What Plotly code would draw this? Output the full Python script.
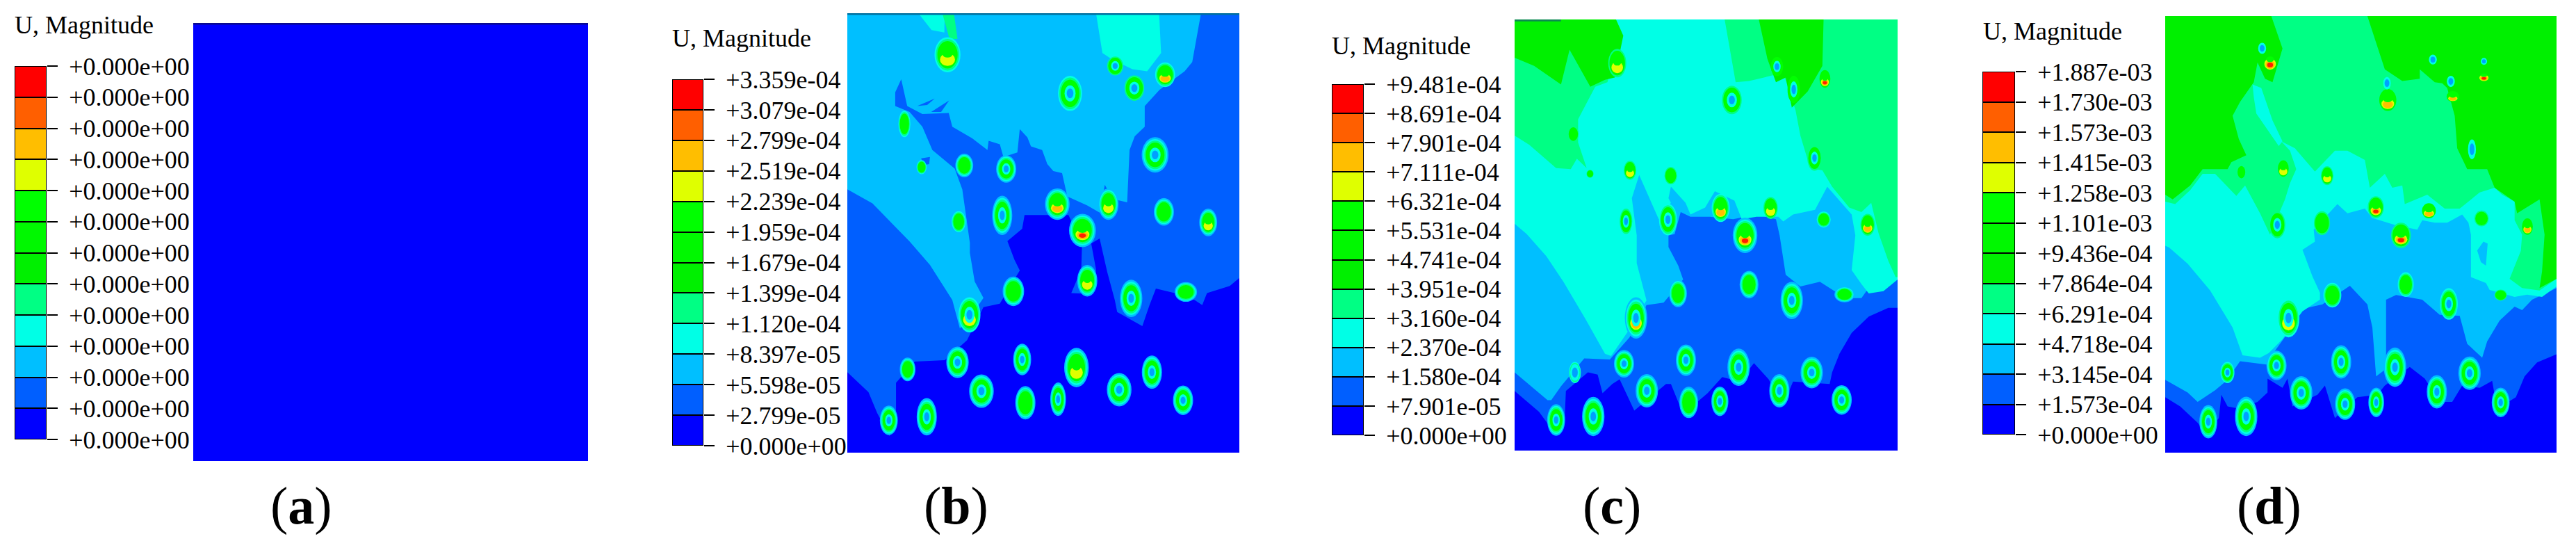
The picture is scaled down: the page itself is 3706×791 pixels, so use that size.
import plotly.graph_objects as go

FONT = "Liberation Serif"

# legend colours, bottom to top
legend_colors = ["#0000ff", "#005fff", "#00bfff", "#00ffe6", "#00ff84", "#00f000", "#00f800", "#00ff00",
                 "#dfff00", "#ffbe00", "#ff5f00", "#ff0000"]
legend_steps = [1] * 12
legend_base = list(range(12))
legend_ticks = list(range(12, -1, -1))

labels_a = ["+0.000e+00"] * 13
labels_b = ["+3.359e-04", "+3.079e-04", "+2.799e-04", "+2.519e-04", "+2.239e-04", "+1.959e-04", "+1.679e-04",
            "+1.399e-04", "+1.120e-04", "+8.397e-05", "+5.598e-05", "+2.799e-05", "+0.000e+00"]
labels_c = ["+9.481e-04", "+8.691e-04", "+7.901e-04", "+7.111e-04", "+6.321e-04", "+5.531e-04", "+4.741e-04",
            "+3.951e-04", "+3.160e-04", "+2.370e-04", "+1.580e-04", "+7.901e-05", "+0.000e+00"]
labels_d = ["+1.887e-03", "+1.730e-03", "+1.573e-03", "+1.415e-03", "+1.258e-03", "+1.101e-03", "+9.436e-04",
            "+7.864e-04", "+6.291e-04", "+4.718e-04", "+3.145e-04", "+1.573e-04", "+0.000e+00"]

b1_x = [469, 522, 544, 575, 591, 591, 638, 713, 769, 810, 851, 901, 888, 870, 907, 913, 1023, 1057, 1055, 1030, 1085, 1092, 1080, 1101, 1120, 1139, 1145, 1208, 1226, 1242, 1289, 1339, 1358, 1370, 1427, 1451, 1451, 469]
b1_y = [1058, 1115, 1175, 1240, 1169, 1088, 1028, 1024, 967, 873, 863, 769, 739, 685, 650, 611, 611, 692, 766, 833, 836, 766, 692, 678, 773, 853, 887, 927, 867, 820, 833, 853, 867, 833, 813, 790, 37, 37]
b2_x = [469, 1355, 1333, 1314, 1251, 1214, 1214, 1189, 1176, 1170, 1133, 1114, 1101, 1070, 1020, 1007, 985, 970, 957, 929, 920, 901, 895, 860, 851, 823, 820, 782, 732, 723, 657, 619, 604, 589, 589, 625, 657, 682, 738, 757, 776, 776, 788, 810, 790, 751, 732, 676, 625, 532, 469]
b2_y = [37, 37, 176, 202, 255, 301, 360, 387, 426, 575, 565, 525, 604, 584, 558, 492, 486, 466, 426, 416, 390, 367, 433, 446, 410, 400, 426, 393, 360, 321, 324, 301, 225, 262, 301, 318, 360, 426, 479, 538, 690, 719, 800, 847, 880, 934, 853, 753, 686, 578, 538]
b3_x = [647, 713, 712, 680]
b3_y = [37, 37, 92, 85]
b4_x = [1092, 1250, 1255, 1220, 1183, 1133, 1108]
b4_y = [37, 37, 150, 202, 196, 169, 150]
b5_x = [707, 736, 745, 725]
b5_y = [37, 37, 110, 110]
b6_x = [654, 676, 674, 660]
b6_y = [450, 446, 466, 469]
b7_x = [644, 688, 669]
b7_y = [301, 280, 298]
b8_x = [679, 724, 704]
b8_y = [318, 285, 318]

# panel c, in pixels of the two stacked crops
c1_x = [0, 100, 135, 165, 205, 210, 300, 340, 360, 400, 430, 490, 620, 640, 690, 790, 850, 920, 980, 1040, 1100, 1140, 1290, 1300, 1330, 1380, 1450, 1530, 1568, 1568, 0]
c1_y = [1600, 1690, 1740, 1790, 1720, 1600, 1520, 1530, 1610, 1570, 1550, 1685, 1570, 1570, 1700, 1610, 1540, 1560, 1480, 1550, 1660, 1560, 1570, 1520, 1440, 1350, 1280, 1242, 1242, 0, 0]
c2_x = [0, 80, 135, 150, 190, 285, 390, 470, 540, 610, 690, 670, 630, 630, 655, 680, 720, 800, 895, 990, 1070, 1085, 1110, 1170, 1250, 1310, 1380, 1420, 1440, 1560, 1568, 1568, 0]
c2_y = [1520, 1590, 1640, 1640, 1580, 1460, 1465, 1370, 1230, 1220, 1120, 1060, 980, 930, 925, 830, 850, 850, 860, 840, 860, 930, 1100, 1150, 1130, 1170, 1200, 1200, 1170, 1120, 1120, 0, 0]
c3_x = [0, 50, 130, 200, 290, 370, 395, 460, 540, 500, 500, 480, 510, 590, 640, 630, 640, 700, 720, 780, 820, 900, 930, 990, 1080, 1100, 1140, 1230, 1280, 1330, 1380, 1395, 1380, 1420, 1450, 1510, 1568, 1568, 0]
c3_y = [880, 925, 1020, 1130, 1290, 1440, 1450, 1350, 1210, 1050, 930, 770, 670, 860, 790, 770, 720, 790, 840, 810, 740, 780, 860, 850, 850, 870, 840, 820, 720, 780, 840, 930, 1080, 1140, 1180, 1170, 1120, 0, 0]
c4_x = [0, 60, 170, 230, 255, 295, 260, 260, 300, 330, 380, 440, 415, 0]
c4_y = [500, 540, 640, 645, 600, 640, 530, 430, 350, 290, 270, 60, 0, 0]
c5_x = [860, 890, 905, 960, 1020, 1100, 1150, 1170, 1210, 1260, 1300, 1370, 1420, 1460, 1490, 1530, 1560, 1568, 1568]
c5_y = [0, 180, 270, 265, 250, 230, 390, 500, 640, 650, 720, 810, 830, 790, 920, 1040, 1110, 1110, 0]
c6_x = [0, 80, 190, 225, 310, 370, 410, 445, 415, 0]
c6_y = [165, 200, 280, 130, 290, 260, 250, 70, 0, 0]
c7_x = [1000, 1035, 1070, 1110, 1135, 1200, 1260, 1265]
c7_y = [0, 170, 270, 250, 380, 310, 200, 0]

# panel d, same way
d1_x = [0, 60, 130, 165, 215, 225, 250, 300, 370, 410, 410, 470, 490, 510, 610, 640, 680, 770, 850, 880, 980, 1040, 1100, 1150, 1190, 1260, 1310, 1330, 1405, 1440, 1490, 1568, 1568, 0]
d1_y = [1642, 1682, 1752, 1802, 1732, 1632, 1682, 1692, 1662, 1622, 1562, 1602, 1562, 1682, 1632, 1592, 1732, 1642, 1632, 1592, 1512, 1562, 1662, 1662, 1592, 1602, 1572, 1692, 1642, 1552, 1492, 1457, 0, 0]
d2_x = [0, 90, 130, 200, 245, 300, 410, 420, 480, 550, 630, 740, 810, 830, 845, 885, 885, 925, 1030, 1100, 1180, 1210, 1270, 1290, 1340, 1400, 1430, 1470, 1568, 1568, 0]
d2_y = [1567, 1622, 1662, 1612, 1572, 1487, 1502, 1472, 1382, 1262, 1242, 1162, 1242, 1342, 1552, 1520, 1222, 1202, 1222, 1287, 1292, 1412, 1472, 1402, 1312, 1252, 1267, 1222, 1172, 0, 0]
d3_x = [0, 15, 90, 180, 270, 310, 380, 415, 470, 550, 620, 620, 590, 550, 600, 595, 690, 730, 800, 830, 920, 1010, 1030, 1080, 1130, 1190, 1215, 1225, 1225, 1285, 1300, 1400, 1450, 1510, 1568, 1568, 0]
d3_y = [990, 997, 1067, 1182, 1342, 1462, 1472, 1452, 1392, 1272, 1222, 1192, 1122, 1007, 972, 920, 810, 850, 830, 870, 900, 920, 880, 890, 890, 855, 890, 942, 1125, 1150, 1180, 1210, 1200, 1210, 1165, 0, 0]
d4_x = [0, 40, 100, 150, 200, 285, 320, 380, 420, 480, 500, 525, 500, 465, 520, 600, 680, 730, 800, 820, 880, 910, 950, 960, 1050, 1120, 1180, 1260, 1320, 1350, 1400, 1400, 1430, 1425, 1395, 1380, 1430, 1500, 1568, 1568, 0]
d4_y = [800, 810, 750, 680, 680, 775, 730, 850, 942, 790, 720, 660, 580, 540, 570, 670, 580, 580, 620, 740, 680, 740, 730, 810, 770, 830, 830, 760, 740, 770, 800, 880, 942, 1012, 1092, 1132, 1172, 1182, 1132, 0, 0]
d5_x = [0, 30, 100, 150, 250, 265, 325, 295, 270, 300, 355, 370, 400, 430, 470, 425, 0]
d5_y = [770, 790, 730, 660, 660, 630, 600, 530, 430, 370, 285, 200, 270, 285, 140, 0, 0]
d6_x = [810, 880, 950, 1020, 1020, 1080, 1110, 1130, 1160, 1170, 1210, 1290, 1320, 1400, 1410, 1500, 1520, 1510, 1500, 1568, 1568]
d6_y = [0, 230, 280, 270, 230, 285, 290, 310, 430, 570, 660, 660, 740, 800, 850, 790, 942, 1100, 1172, 1132, 0]
d7_x = [350, 385, 430, 470, 455, 430, 365, 355]
d7_y = [295, 310, 450, 540, 560, 520, 420, 350]
d8_x = [1250, 1275, 1292, 1285, 1265]
d8_y = [1010, 972, 980, 1075, 1060]

# hot spots: centre, size, hole (0/1), hot level (0 to 3), band they sit in
b_spot_x = [720, 1027, 1140, 1188, 1265, 612, 1240, 762, 867, 655, 748, 857, 995, 1123, 1262, 1373, 1058, 1070, 885, 1180, 1317, 775, 745, 907, 1043, 620, 805, 1150, 1232, 915, 997, 1310, 573, 668]
b_spot_y = [155, 265, 187, 250, 212, 352, 440, 470, 480, 475, 630, 612, 580, 580, 602, 632, 655, 798, 828, 848, 830, 895, 1030, 1022, 1045, 1050, 1112, 1108, 1058, 1145, 1135, 1138, 1195, 1185]
b_spot_w = [65, 60, 45, 55, 50, 30, 60, 40, 45, 25, 35, 45, 55, 45, 45, 40, 60, 45, 48, 50, 50, 55, 50, 40, 55, 35, 55, 55, 45, 45, 35, 45, 40, 45]
b_spot_h = [100, 100, 60, 80, 70, 75, 90, 60, 70, 40, 60, 100, 80, 80, 70, 70, 85, 80, 75, 95, 50, 100, 80, 80, 100, 60, 85, 85, 85, 85, 85, 75, 75, 95]
b_spot_hole = [0, 1, 1, 1, 0, 0, 1, 0, 1, 0, 0, 1, 0, 0, 0, 0, 0, 0, 0, 1, 0, 1, 1, 1, 0, 0, 1, 1, 1, 0, 1, 1, 1, 1]
b_spot_hot = [1, 0, 0, 0, 2, 0, 0, 0, 0, 0, 0, 0, 2, 1, 0, 1, 3, 1, 0, 0, 0, 1, 0, 0, 1, 0, 0, 0, 0, 0, 0, 0, 0, 0]
b_spot_bg = [2, 2, 3, 3, 2, 2, 1, 1, 1, 2, 1, 1, 1, 1, 1, 1, 0, 0, 0, 1, 1, 2, 1, 0, 0, 0, 0, 0, 0, 0, 0, 0, 1, 0]

c_spot_x = [778, 1178, 1220, 1298, 1065, 668, 710, 810, 912, 1272, 1037, 1162, 800, 905, 1295, 1405, 1098, 1108, 930, 1215, 1347, 825, 795, 950, 1082, 672, 852, 1184, 1265, 957, 1035, 1340, 625, 718]
c_spot_y = [180, 190, 255, 225, 285, 382, 495, 485, 500, 450, 592, 592, 630, 625, 625, 640, 670, 810, 835, 855, 838, 905, 1035, 1025, 1045, 1060, 1112, 1112, 1060, 1145, 1142, 1138, 1195, 1185]
c_spot_w = [50, 40, 40, 35, 55, 30, 20, 35, 35, 40, 45, 40, 35, 45, 35, 40, 55, 42, 40, 50, 45, 50, 45, 45, 50, 30, 50, 45, 50, 42, 38, 45, 40, 50]
c_spot_h = [90, 70, 100, 65, 90, 50, 25, 60, 55, 80, 80, 70, 80, 90, 45, 70, 90, 70, 70, 95, 40, 105, 70, 80, 95, 60, 85, 85, 80, 80, 75, 75, 80, 100]
c_spot_hole = [0, 1, 1, 0, 1, 0, 0, 0, 0, 1, 0, 0, 1, 1, 0, 0, 0, 0, 0, 1, 0, 1, 1, 1, 1, 1, 1, 1, 1, 0, 1, 1, 1, 1]
c_spot_hot = [1, 0, 0, 3, 0, 0, 0, 1, 0, 0, 2, 1, 0, 0, 0, 2, 3, 0, 0, 0, 0, 2, 0, 0, 0, 0, 0, 0, 0, 0, 0, 0, 0, 0]
c_spot_bg = [3, 4, 4, 4, 3, 3, 3, 3, 3, 3, 2, 3, 2, 2, 2, 3, 1, 1, 1, 1, 1, 1, 1, 1, 1, 2, 1, 0, 1, 1, 0, 0, 1, 0]

d_spot_x = [812, 792, 1220, 1265, 1348, 1348, 1107, 1105, 1270, 1318, 740, 845, 955, 1077, 1210, 1342, 1457, 1140, 830, 942, 1152, 968, 1260, 1390, 858, 828, 990, 1125, 705, 890, 1230, 1312, 1000, 1078, 1390, 657, 752]
d_spot_y = [170, 138, 170, 232, 215, 175, 285, 237, 275, 425, 490, 480, 500, 590, 600, 622, 645, 670, 640, 635, 810, 840, 865, 840, 905, 1040, 1030, 1045, 1060, 1118, 1115, 1062, 1150, 1145, 1145, 1200, 1185]
d_spot_w = [50, 25, 25, 25, 40, 20, 55, 25, 40, 25, 25, 35, 35, 45, 45, 40, 35, 55, 45, 45, 40, 45, 45, 35, 55, 45, 45, 50, 35, 50, 45, 50, 45, 35, 40, 40, 50]
d_spot_h = [90, 40, 35, 40, 50, 25, 80, 45, 40, 70, 45, 60, 60, 70, 55, 50, 60, 80, 85, 75, 70, 70, 90, 35, 110, 75, 85, 100, 60, 85, 85, 85, 80, 75, 75, 85, 100]
d_spot_hole = [0, 1, 1, 1, 0, 1, 0, 1, 0, 1, 0, 0, 0, 0, 0, 0, 0, 0, 1, 0, 0, 0, 1, 0, 1, 1, 1, 1, 1, 1, 1, 1, 1, 1, 1, 1, 1]
d_spot_hot = [3, 0, 0, 0, 3, 0, 2, 0, 2, 0, 0, 1, 1, 3, 2, 0, 2, 3, 0, 0, 0, 0, 0, 0, 1, 0, 0, 0, 0, 0, 0, 0, 0, 0, 0, 0, 0]
d_spot_bg = [5, 5, 5, 5, 5, 5, 4, 4, 4, 5, 4, 4, 3, 3, 4, 3, 4, 3, 3, 3, 2, 2, 2, 3, 2, 1, 1, 1, 2, 1, 1, 1, 1, 1, 0, 0, 0]

panels = [
    dict(letter="a", labels=labels_a, box=(278, 846, 33, 663), crop=(484, 1473, 66, 1311), bar=(21, 67, 95, 632),
         title_x=19, title_y=36, letter_x=433, field=(484, 1473, 66, 1311), bands=[], spots=None,
         edge=(484, 1473, 68, "#0a0a90")),
    dict(letter="b", labels=labels_b, box=(1219, 1783, 19, 651), crop=(469, 1451, 37, 1287), bar=(967, 1012, 114, 641),
         title_x=965, title_y=55, letter_x=1375, field=(469, 1451, 37, 1287),
         bands=[(b1_x, b1_y, 1), (b2_x, b2_y, 2), (b3_x, b3_y, 3), (b4_x, b4_y, 3), (b5_x, b5_y, 4), (b6_x, b6_y, 1), (b7_x, b7_y, 1), (b8_x, b8_y, 1)],
         spots=(b_spot_x, b_spot_y, b_spot_w, b_spot_h, b_spot_hole, b_spot_hot, b_spot_bg),
         edge=(469, 1451, 39, "#00709f")),
    dict(letter="c", labels=labels_c, box=(2179, 2730, 28, 648), crop=(521, 1480, 56, 1282), bar=(1916, 1962, 121, 626),
         title_x=1914, title_y=66, letter_x=2319, field=(0, 1568, 0, 1857),
         bands=[(c1_x, c1_y, 1), (c2_x, c2_y, 2), (c3_x, c3_y, 3), (c4_x, c4_y, 4), (c5_x, c5_y, 4), (c6_x, c6_y, 5), (c7_x, c7_y, 5)],
         spots=(c_spot_x, c_spot_y, c_spot_w, c_spot_h, c_spot_hole, c_spot_hot, c_spot_bg),
         edge=(0, 190, 4, "#0a8a50")),
    dict(letter="d", labels=labels_d, box=(3115, 3678, 23, 651), crop=(549, 1530, 46, 1288), bar=(2852, 2899, 103, 625),
         title_x=2851, title_y=45, letter_x=3264, field=(0, 1568, 0, 1881),
         bands=[(d1_x, d1_y, 1), (d2_x, d2_y, 2), (d3_x, d3_y, 3), (d4_x, d4_y, 4), (d5_x, d5_y, 5), (d6_x, d6_y, 5), (d7_x, d7_y, 3), (d8_x, d8_y, 2)],
         spots=(d_spot_x, d_spot_y, d_spot_w, d_spot_h, d_spot_hole, d_spot_hot, d_spot_bg), edge=None),
]

W, H = 3706, 791
fig = go.Figure()
layout = dict(width=W, height=H, margin=dict(l=0, r=0, t=0, b=0, autoexpand=False), paper_bgcolor="white", plot_bgcolor="rgba(0,0,0,0)",
              showlegend=False, barmode="overlay", bargap=0)
shapes = []
notes = []

# band level of the halo rings round a spot and their size
rings = [(2, 1.12, "#00bfff"), (3, 1.0, "#00ffe6"), (4, 0.9, "#00ff84"), (5, 0.78, "#00ff00")]


def ellipse(px, py, cx, cy, w, h, color):
    shapes.append(dict(type="circle", xref=px, yref=py, x0=cx - w / 2, x1=cx + w / 2, y0=cy - h / 2, y1=cy + h / 2,
                       fillcolor=color, line=dict(width=0)))


for i, p in enumerate(panels):
    n_field = 3 * i + 1
    n_bar = 3 * i + 2
    n_spot = 3 * i + 3
    x0, x1, y0, y1 = p["box"]
    cx0, cx1, cy0, cy1 = p["crop"]
    fx0, fx1, fy0, fy1 = p["field"]
    dom_x = [x0 / W, x1 / W]
    dom_y = [1 - y1 / H, 1 - y0 / H]
    layout[f"xaxis{n_field}"] = dict(domain=dom_x, range=[fx0, fx1], visible=False, anchor=f"y{n_field}")
    layout[f"yaxis{n_field}"] = dict(domain=dom_y, range=[fy1, fy0], visible=False, anchor=f"x{n_field}")
    layout[f"xaxis{n_spot}"] = dict(domain=dom_x, range=[cx0, cx1], visible=False, anchor=f"y{n_spot}")
    layout[f"yaxis{n_spot}"] = dict(domain=dom_y, range=[cy1, cy0], visible=False, anchor=f"x{n_spot}")
    xr, yr = f"x{n_field}", f"y{n_field}"
    sxr, syr = f"x{n_spot}", f"y{n_spot}"

    # uniform base of the field
    fig.add_trace(go.Heatmap(x=[fx0, fx1], y=[fy0, fy1], z=[[0, 0], [0, 0]], xaxis=xr, yaxis=yr, zmin=0, zmax=1,
                             colorscale=[[0, "#0000ff"], [1, "#0000ff"]], showscale=False))

    for bx, by, level in p["bands"]:
        fig.add_trace(go.Scatter(x=bx, y=by, mode="lines", fill="toself", fillcolor=legend_colors[level],
                                 line=dict(width=0), xaxis=xr, yaxis=yr))

    if p["edge"]:
        ex0, ex1, ey, ecol = p["edge"]
        fig.add_trace(go.Scatter(x=[ex0, ex1], y=[ey, ey], mode="lines", line=dict(color=ecol, width=3), xaxis=xr, yaxis=yr))

    if p["spots"]:
        for sx, sy, sw, sh, hole, hot, bg in zip(*p["spots"]):
            for level, scale, col in rings:
                if level > bg:
                    ellipse(sxr, syr, sx, sy, sw * scale, sh * scale, col)
            if hot:
                hy = sy + sh * 0.14
                ellipse(sxr, syr, sx, hy, sw * 0.58, sh * 0.36, "#dfff00")
                if hot > 1:
                    ellipse(sxr, syr, sx, hy + sh * 0.02, sw * 0.46, sh * 0.26, "#ffbe00")
                if hot > 2:
                    ellipse(sxr, syr, sx, hy + sh * 0.03, sw * 0.3, sh * 0.15, "#ff2000")
                ellipse(sxr, syr, sx, hy - sh * 0.15, sw * 0.38, sh * 0.18, "#00ff00")
            if hole:
                big = 0.8 if sw <= 30 else 0.46
                ellipse(sxr, syr, sx, sy, sw * big, sh * big, "#00ffe6")
                ellipse(sxr, syr, sx, sy, sw * big * 0.6, sh * big * 0.6, "#00a0ff")

    # contour legend
    bx0, bx1, by0, by1 = p["bar"]
    layout[f"xaxis{n_bar}"] = dict(domain=[bx0 / W, bx1 / W], range=[-0.5, 0.5], visible=False, anchor=f"y{n_bar}")
    layout[f"yaxis{n_bar}"] = dict(domain=[1 - by1 / H, 1 - by0 / H], range=[0, 12], side="right", anchor=f"x{n_bar}",
                                   tickmode="array", tickvals=legend_ticks, ticktext=p["labels"], showgrid=False,
                                   zeroline=False, ticks="outside", ticklen=15, tickwidth=2, tickcolor="black",
                                   ticklabelstandoff=9, tickfont=dict(family=FONT, size=36, color="black"))
    fig.add_trace(go.Bar(x=[0] * 12, y=legend_steps, base=legend_base, width=1, marker=dict(color=legend_colors, line=dict(color="black", width=2)),
                         xaxis=f"x{n_bar}", yaxis=f"y{n_bar}"))

    notes.append(dict(text="U, Magnitude", x=p["title_x"] / W, y=1 - p["title_y"] / H, xref="paper", yref="paper",
                      xanchor="left", yanchor="middle", showarrow=False, font=dict(family=FONT, size=36, color="black")))
    notes.append(dict(text=f"(<b>{p['letter']}</b>)", x=p["letter_x"] / W, y=1 - 727 / H, xref="paper", yref="paper",
                      xanchor="center", yanchor="middle", showarrow=False, font=dict(family=FONT, size=76, color="black")))

layout["shapes"] = shapes
layout["annotations"] = notes
fig.update_layout(**layout)
fig.write_html("out.html", config={"displayModeBar": False}, post_script="document.body.style.margin='0';")
